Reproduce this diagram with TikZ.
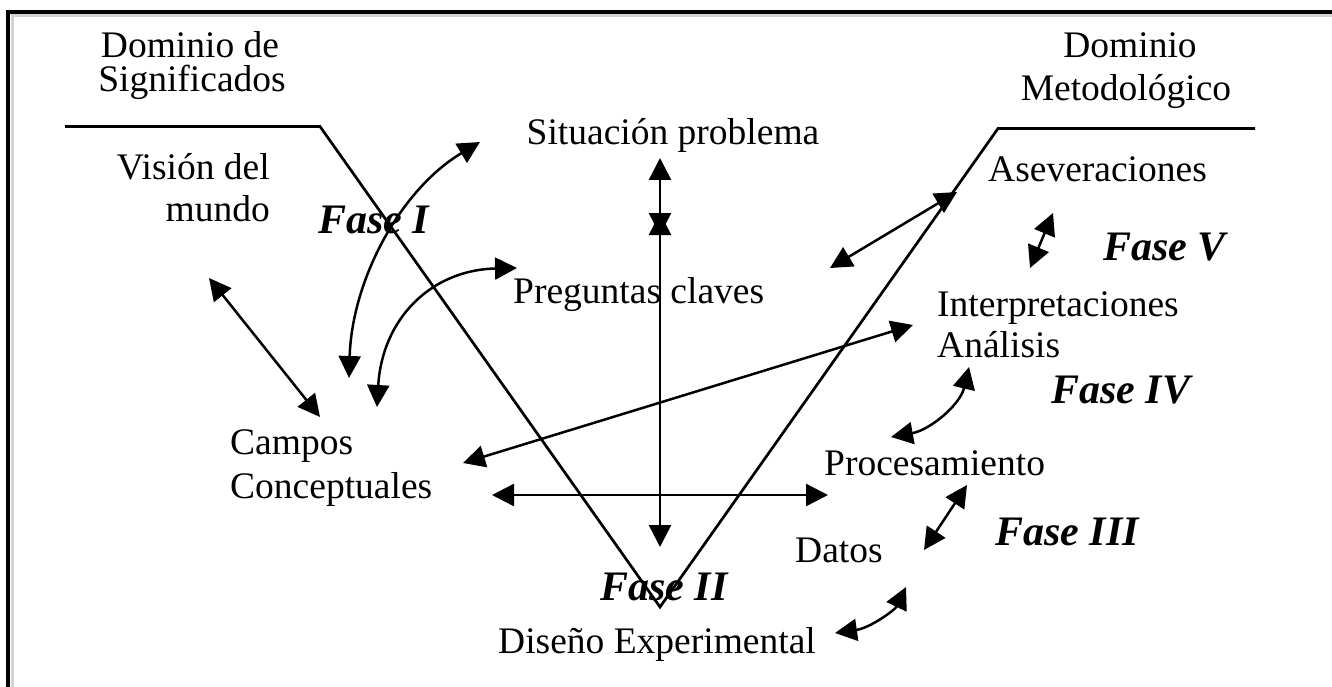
\documentclass[tikz,border=0pt]{standalone}
\usepackage{fontspec}
\setmainfont{Liberation Serif}
\usetikzlibrary{arrows.meta}
\begin{document}
\begin{tikzpicture}[x=1pt,y=-1pt,
  lbl/.style={inner sep=0pt, font=\fontsize{37.5}{40}\selectfont},
  fase/.style={inner sep=0pt, font=\fontsize{42}{46}\selectfont\bfseries\itshape},
  conn/.style={line width=2.5pt, {Triangle[length=22pt,width=22pt]}-{Triangle[length=22pt,width=22pt]}},
  vline/.style={line width=2.7pt},
  frame/.style={line width=3.5pt}]
\useasboundingbox (0,0) rectangle (1332,687);
% frame
\draw[gray!35, line width=3pt] (12,687) -- (12,16) -- (1332,16);
\draw[frame] (8,687) -- (8,12) -- (1332,12);
% V shape
\draw[vline] (65,126.5) -- (320,126.5) -- (660,607) -- (998,128.5) -- (1255,128.5);
% texts
\node[lbl, anchor=base] (dom1) at (190,58) {Dominio de};
\node[lbl, anchor=base] (dom2) at (192,92) {Significados};
\node[lbl, anchor=base] (met1) at (1130,58) {Dominio};
\node[lbl, anchor=base] (met2) at (1126,101) {Metodológico};
\node[lbl, anchor=base east] (vis1) at (270,180) {Visión del};
\node[lbl, anchor=base east] (vis2) at (270,222) {mundo};
\node[lbl, anchor=base] (sit) at (673,145) {Situación problema};
\node[lbl, anchor=base west] (preg) at (513,303) {Preguntas claves};
\node[lbl, anchor=base west] (asev) at (988,182) {Aseveraciones};
\node[lbl, anchor=base west] (interp) at (937,316) {Interpretaciones};
\node[lbl, anchor=base west] (anal) at (937,357) {Análisis};
\node[lbl, anchor=base west] (proc) at (824,475) {Procesamiento};
\node[lbl, anchor=base west] (datos) at (795,562) {Datos};
\node[lbl, anchor=base] (dis) at (657,653) {Diseño Experimental};
\node[lbl, anchor=base west] (camp) at (230,454) {Campos};
\node[lbl, anchor=base west] (conc) at (230,498) {Conceptuales};
\node[fase, anchor=base west] (f1) at (318,233) {Fase I};
\node[fase, anchor=base west] (f2) at (600,600) {Fase II};
\node[fase, anchor=base west] (f3) at (995,545) {Fase III};
\node[fase, anchor=base west] (f4) at (1051,403) {Fase IV};
\node[fase, anchor=base west] (f5) at (1103,260) {Fase V};
% arrow end points
\coordinate (visA) at (209,278);
\coordinate (camA) at (320,417);
\coordinate (f1A) at (349,378);
\coordinate (f1B) at (480,142);
\coordinate (pqA) at (377,407);
\coordinate (pqB) at (517,268);
\coordinate (ccA) at (463,463);
\coordinate (iaA) at (913,325);
\coordinate (chA) at (492,495);
\coordinate (prA) at (828,495);
\coordinate (spA) at (660,158);
\coordinate (vA) at (660,235);
\coordinate (vB) at (660,213);
\coordinate (deA) at (660,547);
\coordinate (pq2) at (830,268);
\coordinate (asA) at (957,192);
\coordinate (f5A) at (1053,213);
\coordinate (f5B) at (1030,268);
\coordinate (f4A) at (969,367);
\coordinate (f4B) at (891,437);
\coordinate (f3A) at (967,485);
\coordinate (f3B) at (924,550);
\coordinate (f2A) at (906,587);
\coordinate (f2B) at (835,633);
% connectors
\draw[conn] (visA) -- (camA);
\draw[conn] (f1A) .. controls (352,280) and (400,190) .. (f1B);
\draw[conn] (pqA) .. controls (382,320) and (430,270) .. (pqB);
\draw[conn] (ccA) -- (iaA);
\draw[conn] (chA) -- (prA);
\draw[conn] (spA) -- (vA);
\draw[conn] (vB) -- (deA);
\draw[conn] (pq2) -- (asA);
\draw[conn] (f5A) -- (f5B);
\draw[conn] (f4A) .. controls (960,405) and (930,430) .. (f4B);
\draw[conn] (f3A) -- (f3B);
\draw[conn] (f2A) .. controls (895,610) and (870,628) .. (f2B);
\end{tikzpicture}
\end{document}
